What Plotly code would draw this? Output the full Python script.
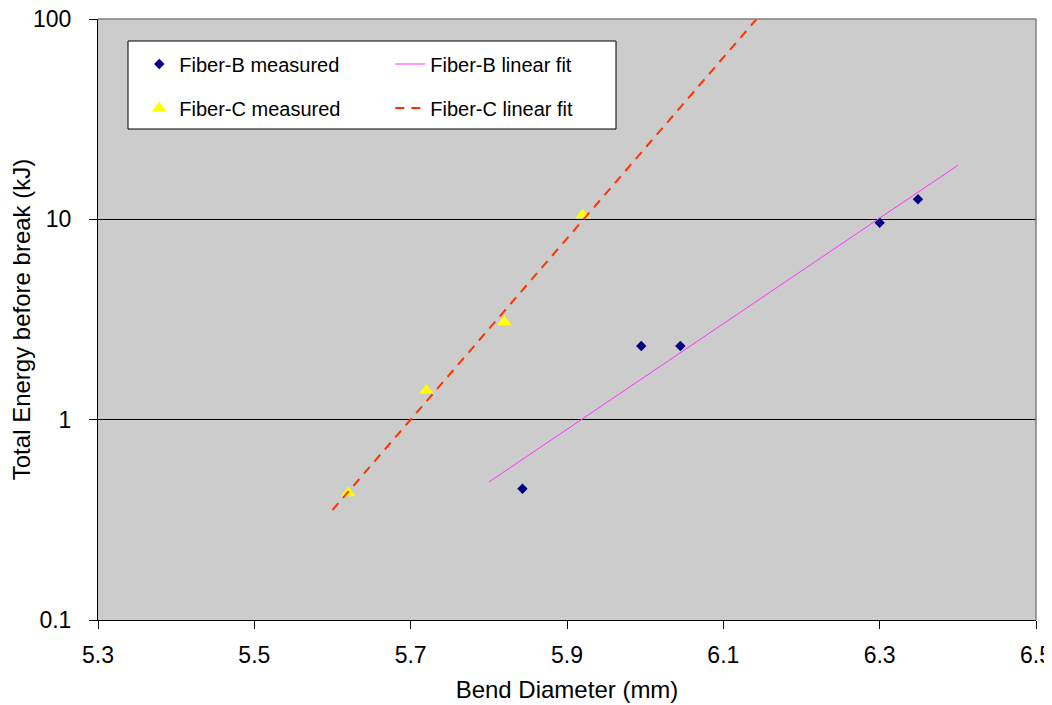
import plotly.graph_objects as go

# ---- data ----
fiber_b_x = [5.843, 5.995, 6.045, 6.300, 6.349]
fiber_b_y = [0.452, 2.33, 2.33, 9.62, 12.6]

fiber_c_x = [5.62, 5.72, 5.82, 5.92]
fiber_c_y = [0.43, 1.40, 3.07, 10.5]

fit_b_x = [5.80, 6.40]
fit_b_y = [0.488, 18.6]

fit_c_x = [5.60, 6.15]
fit_c_y = [0.354, 108.0]

x_ticks = [5.3, 5.5, 5.7, 5.9, 6.1, 6.3, 6.5]
x_tick_labels = ["5.3", "5.5", "5.7", "5.9", "6.1", "6.3", "6.5"]
y_ticks = [0.1, 1, 10, 100]
y_tick_labels = ["0.1", "1", "10", "100"]

FONT = "Liberation Sans, Arial, sans-serif"

fig = go.Figure()

fig.add_trace(go.Scatter(
    x=fiber_b_x, y=fiber_b_y, mode="markers", name="Fiber-B measured",
    marker=dict(symbol="diamond", size=8, color="#000080"),
    legend="legend",
))
fig.add_trace(go.Scatter(
    x=fit_b_x, y=fit_b_y, mode="lines", name="Fiber-B linear fit",
    line=dict(color="#FF33FF", width=1),
    legend="legend",
))
fig.add_trace(go.Scatter(
    x=fiber_c_x, y=fiber_c_y, mode="markers", name="Fiber-C measured",
    marker=dict(symbol="triangle-up", size=13, color="#FFFF00"),
    legend="legend2",
))
fig.add_trace(go.Scatter(
    x=fit_c_x, y=fit_c_y, mode="lines", name="Fiber-C linear fit",
    line=dict(color="#FF3300", width=2, dash="9px,7px"),
    legend="legend2",
))

legend_common = dict(
    orientation="h", xanchor="left", yanchor="middle",
    bgcolor="rgba(0,0,0,0)", borderwidth=0,
    font=dict(family=FONT, size=20, color="black"),
    entrywidth=206, entrywidthmode="pixels",
    itemclick=False, itemdoubleclick=False,
)

# the page body adds an 8px offset, so the figure is sized/margined to compensate
fig.update_layout(
    width=1044, height=697,
    margin=dict(l=90, r=16, t=11, b=85),
    paper_bgcolor="white",
    plot_bgcolor="#CCCCCC",
    font=dict(family=FONT, size=23, color="black"),
    showlegend=True,
    legend=dict(x=0.044, y=(620 - 64) / 601, **legend_common),
    legend2=dict(x=0.044, y=(620 - 108) / 601, **legend_common),
    xaxis=dict(
        range=[5.3, 6.5], tickvals=x_ticks, ticktext=x_tick_labels,
        showgrid=False, zeroline=False, automargin=False,
        showline=True, linecolor="black", linewidth=1,
        ticks="outside", ticklen=8, tickcolor="black", tickwidth=1,
        ticklabelstandoff=6, ticklabeloverflow="allow",
        tickfont=dict(family=FONT, size=23, color="black"),
        title=dict(text="Bend Diameter (mm)", font=dict(family=FONT, size=24, color="black"), standoff=14),
    ),
    yaxis=dict(
        type="log", range=[-1, 2], tickvals=y_ticks, ticktext=y_tick_labels,
        showgrid=True, gridcolor="black", gridwidth=1, zeroline=False, automargin=False,
        showline=True, linecolor="black", linewidth=1,
        ticks="outside", ticklen=8, tickcolor="black", tickwidth=1,
        ticklabelstandoff=13, ticklabeloverflow="allow",
        tickfont=dict(family=FONT, size=23, color="black"),
        title=dict(text="Total Energy before break (kJ)", font=dict(family=FONT, size=24, color="black"), standoff=0),
    ),
    shapes=[
        # legend box
        dict(type="rect", xref="paper", yref="paper",
             x0=(128 - 98) / 938, x1=(616 - 98) / 938,
             y0=(620 - 129) / 601, y1=(620 - 41) / 601,
             fillcolor="white", line=dict(color="black", width=1), layer="above"),
        # plot-area border (top and right)
        dict(type="line", xref="x domain", yref="y domain", x0=0, x1=1, y0=1, y1=1,
             line=dict(color="#808080", width=1.5), layer="above"),
        dict(type="line", xref="x domain", yref="y domain", x0=1, x1=1, y0=0, y1=1,
             line=dict(color="#808080", width=1.5), layer="above"),
    ],
)

fig.write_html("out.html")
